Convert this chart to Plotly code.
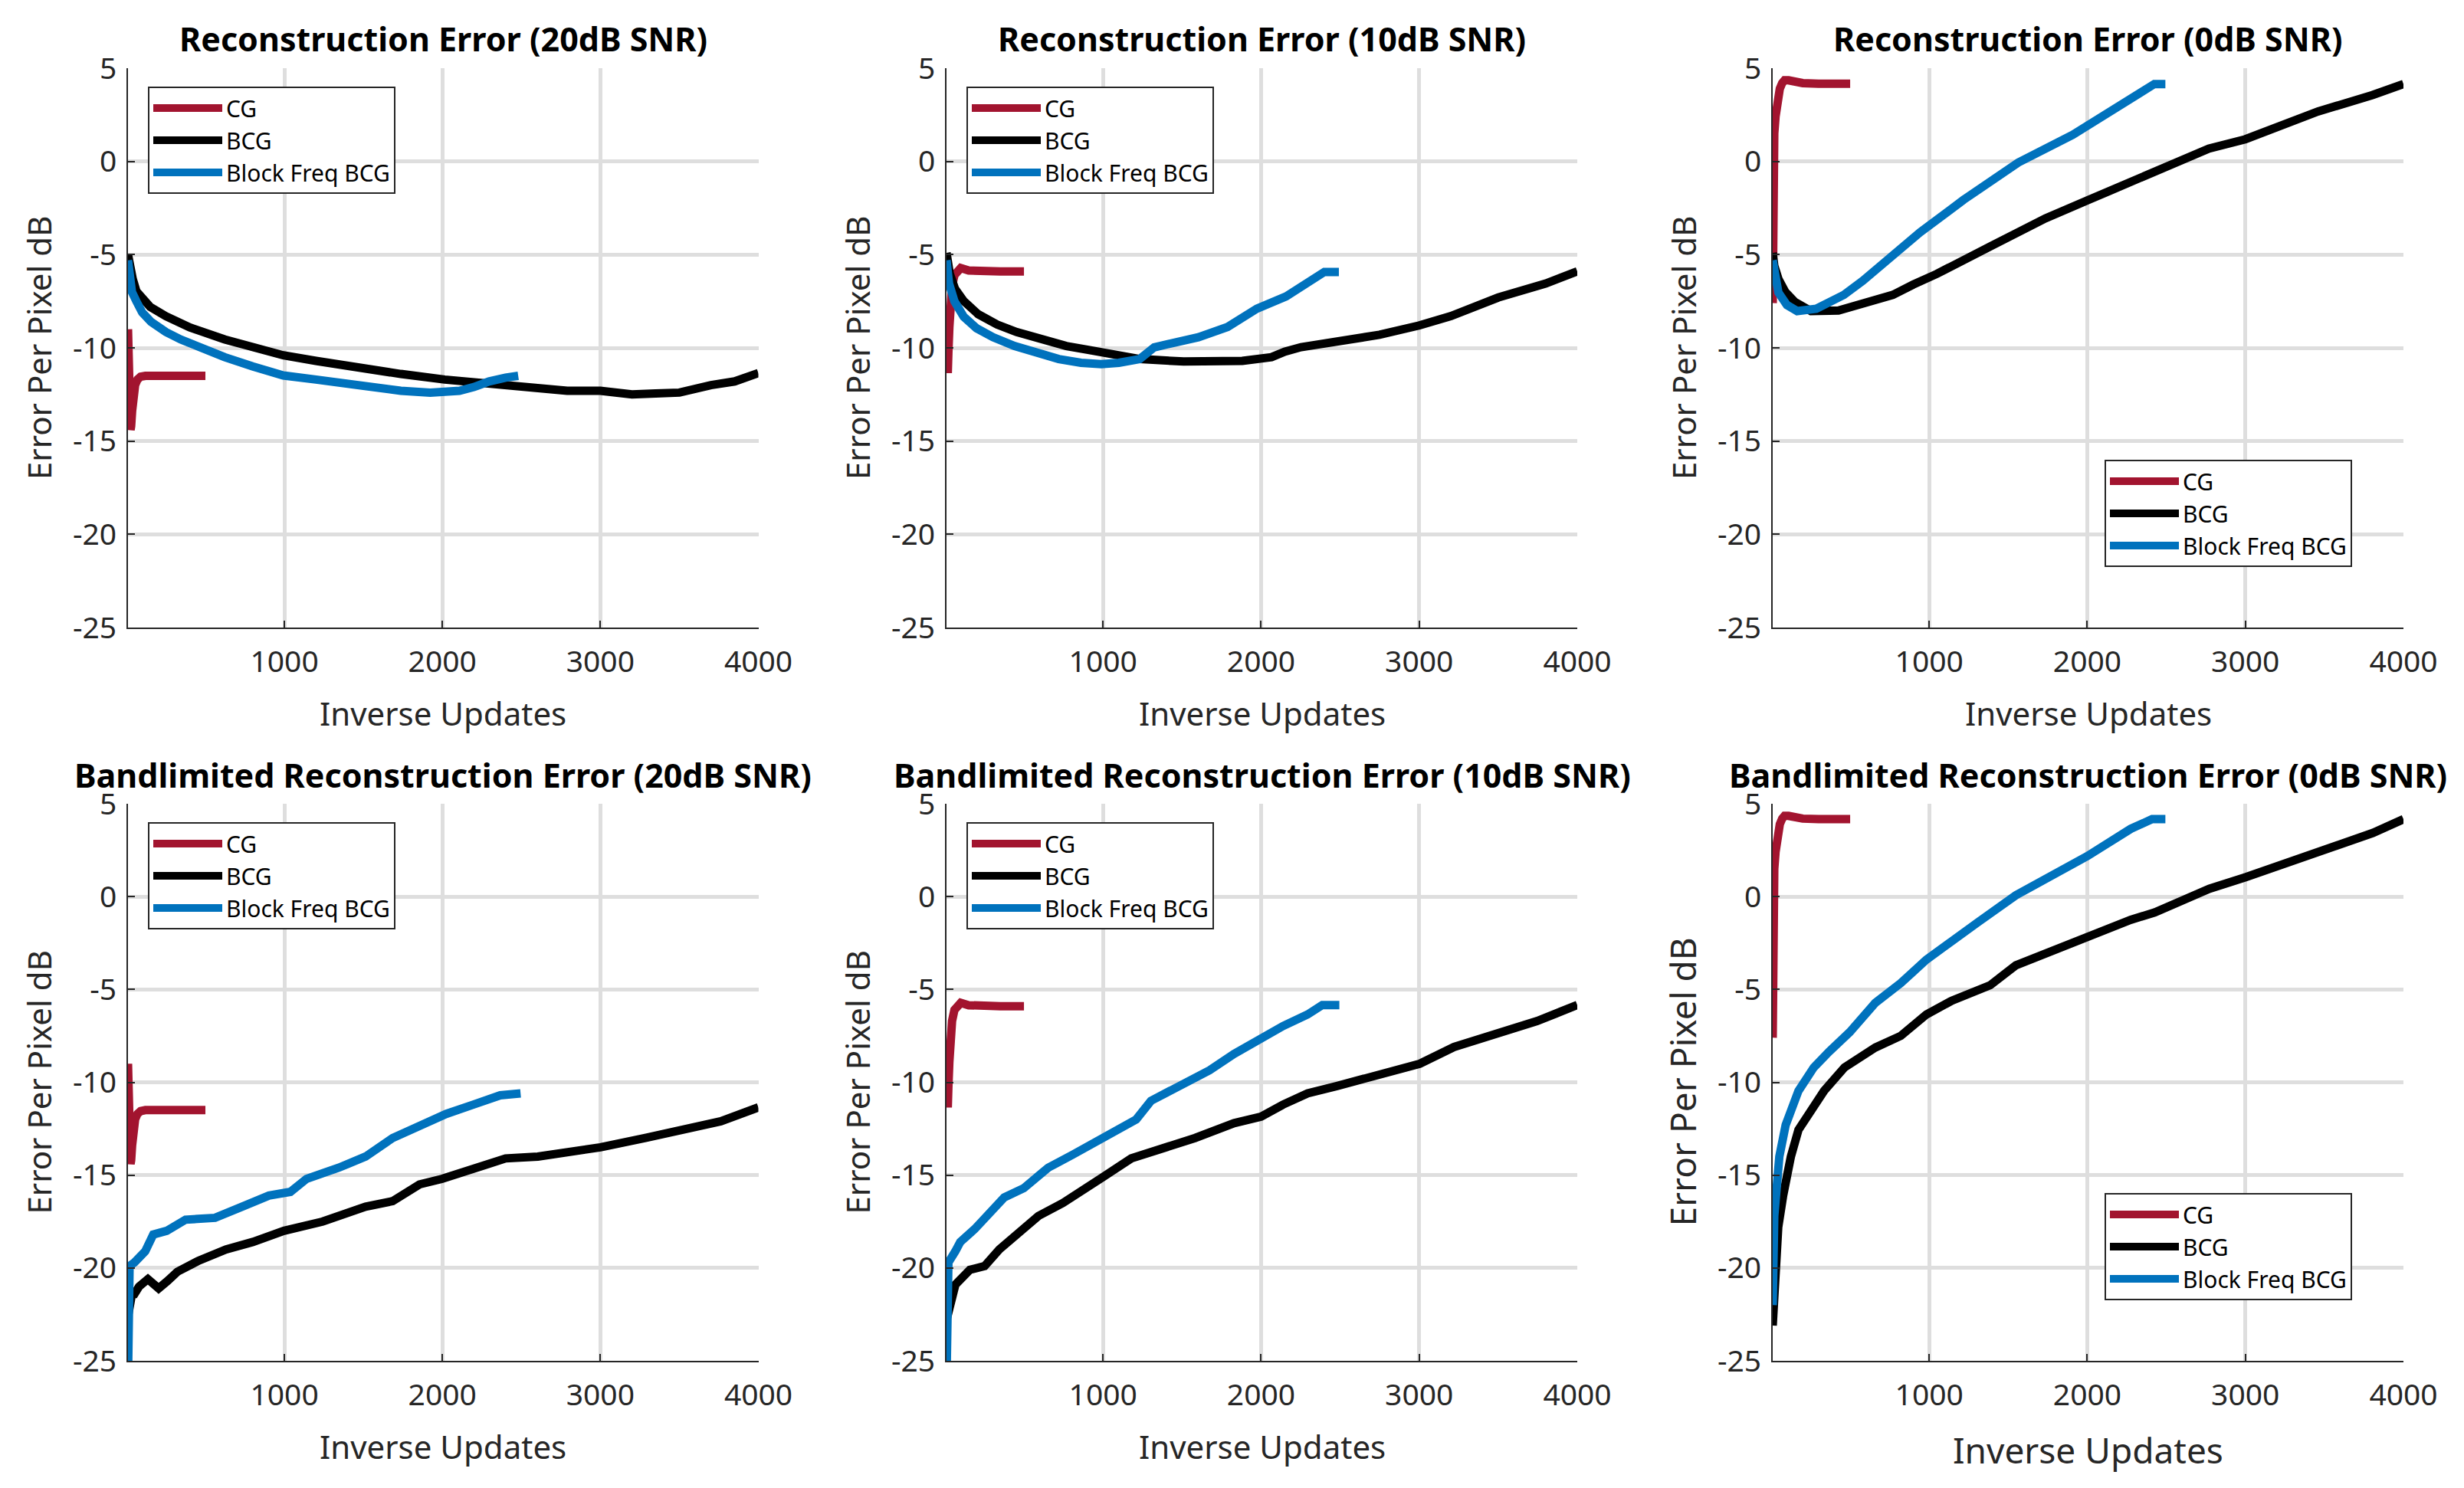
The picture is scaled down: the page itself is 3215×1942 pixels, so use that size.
import plotly.graph_objects as go

# ---------------- data ----------------
# CG curves (shared shapes per SNR level)
cg20_x = [10, 14, 18, 22, 26, 30, 36, 44, 55, 70, 90, 120, 200, 300, 400, 500]
cg20_y = [-9.0, -10.5, -12.3, -13.8, -14.4, -14.2, -13.4, -12.5, -12.0, -11.7, -11.55, -11.5, -11.5, -11.5, -11.5, -11.5]

cg10_x = [10, 14, 18, 22, 28, 35, 45, 60, 80, 100, 150, 250, 350, 500]
cg10_y = [-9.0, -10.4, -11.35, -10.2, -8.9, -7.6, -6.7, -6.1, -5.8, -5.72, -5.85, -5.9, -5.9, -5.9]

cg0_x = [10, 11, 13, 16, 20, 28, 36, 45, 55, 70, 85, 110, 150, 200, 300, 400, 500]
cg0_y = [-7.6, -4.5, -2.0, 0.0, 1.5, 2.4, 3.0, 3.5, 3.9, 4.2, 4.35, 4.35, 4.25, 4.2, 4.17, 4.17, 4.17]

# Reconstruction error, 20 dB
bcg20_x = [10, 20, 40, 63, 100, 150, 250, 400, 622, 800, 993, 1200, 1365, 1550, 1737, 2015, 2200, 2295, 2480, 2790, 3000, 3200, 3350, 3500, 3700, 3850, 4000]
bcg20_y = [-5.0, -5.6, -6.3, -6.96, -7.4, -7.8, -8.3, -8.9, -9.55, -10.0, -10.4, -10.7, -10.95, -11.2, -11.4, -11.7, -11.85, -11.85, -12.0, -12.3, -12.3, -12.5, -12.45, -12.4, -12.0, -11.8, -11.35]
bf20_x = [10, 18, 35, 63, 100, 156, 250, 344, 480, 622, 800, 993, 1200, 1365, 1550, 1737, 1923, 2108, 2200, 2295, 2400, 2480]
bf20_y = [-5.3, -6.4, -7.0, -7.5, -8.1, -8.6, -9.15, -9.55, -10.05, -10.5, -11.0, -11.48, -11.7, -11.9, -12.1, -12.3, -12.4, -12.3, -12.1, -11.8, -11.6, -11.5]

# Reconstruction error, 10 dB
bcg10_x = [10, 30, 63, 120, 211, 330, 453, 600, 768, 900, 1047, 1232, 1510, 1696, 1881, 2066, 2150, 2253, 2438, 2749, 3000, 3200, 3500, 3800, 4000]
bcg10_y = [-4.9, -6.0, -6.82, -7.5, -8.2, -8.75, -9.15, -9.55, -9.9, -10.1, -10.3, -10.6, -10.73, -10.77, -10.7, -10.5, -10.2, -9.96, -9.7, -9.3, -8.8, -8.3, -7.3, -6.55, -5.9]
bf10_x = [10, 26, 60, 119, 200, 304, 440, 582, 720, 861, 989, 1100, 1232, 1324, 1450, 1603, 1788, 1973, 2158, 2308, 2400, 2492]
bf10_y = [-5.3, -6.55, -7.5, -8.33, -8.95, -9.43, -9.9, -10.3, -10.6, -10.8, -10.87, -10.8, -10.6, -9.97, -9.7, -9.43, -8.88, -7.9, -7.24, -6.4, -5.93, -5.93]

# Reconstruction error, 0 dB
bcg0_x = [10, 20, 46, 90, 150, 252, 426, 600, 770, 900, 1046, 1391, 1736, 2012, 2424, 2769, 3000, 3460, 3805, 4000]
bcg0_y = [-4.9, -5.6, -6.3, -7.0, -7.54, -8.03, -8.0, -7.6, -7.16, -6.6, -6.04, -4.54, -3.05, -2.05, -0.55, 0.69, 1.19, 2.68, 3.56, 4.15]
bf0_x = [10, 25, 46, 100, 165, 286, 460, 580, 701, 943, 1219, 1563, 1908, 2253, 2424, 2494]
bf0_y = [-5.3, -6.3, -7.03, -7.7, -8.03, -7.9, -7.16, -6.4, -5.54, -3.8, -2.05, -0.06, 1.43, 3.2, 4.15, 4.15]

# Bandlimited reconstruction error, 20 dB
bbcg20_x = [10, 20, 35, 51, 80, 136, 204, 260, 323, 459, 630, 800, 997, 1242, 1514, 1685, 1855, 1998, 2196, 2400, 2604, 3000, 3285, 3500, 3762, 4000]
bbcg20_y = [-22.6, -22.0, -21.4, -21.4, -21.0, -20.6, -21.1, -20.7, -20.2, -19.6, -19.0, -18.6, -18.0, -17.5, -16.7, -16.4, -15.5, -15.2, -14.7, -14.1, -14.0, -13.5, -13.0, -12.6, -12.1, -11.35]
bbf20_x = [10, 15, 20, 51, 119, 170, 255, 374, 561, 732, 902, 1038, 1140, 1344, 1514, 1685, 1889, 2025, 2196, 2366, 2495]
bbf20_y = [-26.0, -21.0, -19.9, -19.7, -19.1, -18.2, -18.0, -17.4, -17.3, -16.7, -16.1, -15.9, -15.2, -14.6, -14.0, -13.0, -12.2, -11.7, -11.2, -10.7, -10.6]

# Bandlimited reconstruction error, 10 dB
bbcg10_x = [10, 20, 35, 66, 158, 251, 344, 468, 591, 746, 901, 1000, 1179, 1365, 1582, 1829, 2000, 2139, 2294, 2480, 2757, 3004, 3220, 3499, 3746, 4000]
bbcg10_y = [-22.8, -22.5, -22.0, -20.9, -20.1, -19.9, -19.0, -18.1, -17.2, -16.5, -15.7, -15.1, -14.1, -13.6, -13.0, -12.2, -11.85, -11.2, -10.6, -10.2, -9.6, -9.0, -8.1, -7.35, -6.7, -5.84]
bbf10_x = [10, 15, 22, 66, 97, 189, 282, 375, 499, 653, 808, 1000, 1210, 1303, 1519, 1674, 1829, 2000, 2139, 2294, 2387, 2495]
bbf10_y = [-26.0, -21.0, -19.7, -19.1, -18.6, -17.9, -17.1, -16.2, -15.7, -14.6, -13.9, -13.0, -12.0, -11.0, -10.1, -9.35, -8.47, -7.6, -6.97, -6.35, -5.84, -5.84]

# Bandlimited reconstruction error, 0 dB
bbcg0_x = [10, 28, 45, 76, 125, 173, 254, 335, 464, 659, 820, 982, 1144, 1386, 1548, 1790, 2000, 2275, 2427, 2772, 3003, 3462, 3807, 4000]
bbcg0_y = [-23.1, -20.3, -17.8, -16.1, -14.0, -12.56, -11.5, -10.46, -9.2, -8.13, -7.5, -6.35, -5.6, -4.77, -3.7, -2.87, -2.24, -1.25, -0.85, 0.42, 1.05, 2.43, 3.43, 4.17]
bbf0_x = [10, 20, 52, 92, 173, 270, 367, 497, 659, 820, 982, 1144, 1305, 1548, 1790, 2000, 2275, 2410, 2494]
bbf0_y = [-22.0, -17.2, -14.0, -12.3, -10.46, -9.2, -8.35, -7.3, -5.72, -4.66, -3.4, -2.45, -1.4, 0.07, 1.23, 2.18, 3.65, 4.17, 4.17]

titles = ["Reconstruction Error (20dB SNR)", "Reconstruction Error (10dB SNR)", "Reconstruction Error (0dB SNR)",
          "Bandlimited Reconstruction Error (20dB SNR)", "Bandlimited Reconstruction Error (10dB SNR)",
          "Bandlimited Reconstruction Error (0dB SNR)"]
series_names = ["CG", "BCG", "Block Freq BCG"]
x_ticks = [1000, 2000, 3000, 4000]
x_tick_labels = ["1000", "2000", "3000", "4000"]
y_ticks = [-25, -20, -15, -10, -5, 0, 5]
y_tick_labels = ["-25", "-20", "-15", "-10", "-5", "0", "5"]
x_label = "Inverse Updates"
y_label = "Error Per Pixel dB"

panel_data = [
    [(cg20_x, cg20_y), (bcg20_x, bcg20_y), (bf20_x, bf20_y)],
    [(cg10_x, cg10_y), (bcg10_x, bcg10_y), (bf10_x, bf10_y)],
    [(cg0_x, cg0_y), (bcg0_x, bcg0_y), (bf0_x, bf0_y)],
    [(cg20_x, cg20_y), (bbcg20_x, bbcg20_y), (bbf20_x, bbf20_y)],
    [(cg10_x, cg10_y), (bbcg10_x, bbcg10_y), (bbf10_x, bbf10_y)],
    [(cg0_x, cg0_y), (bbcg0_x, bbcg0_y), (bbf0_x, bbf0_y)],
]

# ---------------- layout / style ----------------
W, H = 3215, 1942
colors = ["#A2142F", "#000000", "#0072BD"]
col_px = [(167, 989.5), (1235, 2058), (2313, 3136)]
row_px = [(89, 819), (1049, 1776)]
FONT = "Noto Sans"
AX = "#262626"

fig = go.Figure()
annotations = []
layout_axes = {}
legends = {}

for i in range(6):
    r, c = divmod(i, 3)
    x0, x1 = col_px[c]
    y0, y1 = row_px[r]
    xd = [x0 / W, x1 / W]
    yd = [1 - y1 / H, 1 - y0 / H]
    xa = "xaxis" if i == 0 else f"xaxis{i+1}"
    ya = "yaxis" if i == 0 else f"yaxis{i+1}"
    xref = "x" if i == 0 else f"x{i+1}"
    yref = "y" if i == 0 else f"y{i+1}"
    lg = "legend" if i == 0 else f"legend{i+1}"

    for k, (xs, ys) in enumerate(panel_data[i]):
        fig.add_trace(go.Scatter(x=xs, y=ys, mode="lines", name=series_names[k],
                                 line=dict(color=colors[k], width=11),
                                 xaxis=xref, yaxis=yref, legend=lg, showlegend=True))

    common = dict(showline=True, linecolor=AX, linewidth=2, ticks="inside", ticklen=9,
                  tickwidth=2, tickcolor=AX, showgrid=True, gridcolor="#dedede", gridwidth=5,
                  zeroline=False, automargin=False,
                  tickfont=dict(family=FONT, size=39, color=AX), mirror=False)
    layout_axes[xa] = dict(common, domain=xd, range=[10, 4000], tickvals=x_ticks,
                           ticktext=x_tick_labels, anchor=yref, ticklabelstandoff=9)
    layout_axes[ya] = dict(common, domain=yd, range=[-25, 5], tickvals=y_ticks,
                           ticktext=y_tick_labels, anchor=xref, ticklabelstandoff=5)

    # legend placement
    if c < 2:
        legends[lg] = dict(x=(x0 + 26) / W, y=1 - (y0 + 24) / H, xanchor="left", yanchor="top")
    else:
        legends[lg] = dict(x=(x0 + 433) / W, y=1 - (y1 - 79) / H, xanchor="left", yanchor="bottom")
    legends[lg].update(bgcolor="white", bordercolor=AX, borderwidth=2,
                       font=dict(family=FONT, size=30, color="#000000"), itemwidth=90,
                       tracegroupgap=0)

    cx = (x0 + x1) / 2 / W
    # title
    annotations.append(dict(text=titles[i], x=cx, y=1 - (y0 - 38) / H, xref="paper", yref="paper",
                            xanchor="center", yanchor="middle", showarrow=False,
                            font=dict(family=FONT, size=43, color="#000000", weight="bold")))
    big = (i == 5)
    annotations.append(dict(text=x_label, x=cx, y=1 - (y1 + (116 if big else 111)) / H, xref="paper",
                            yref="paper", xanchor="center", yanchor="middle", showarrow=False,
                            font=dict(family=FONT, size=46 if big else 42, color=AX)))
    annotations.append(dict(text=y_label, x=(x0 - (119 if big else 117)) / W, y=1 - (y0 + y1) / 2 / H,
                            xref="paper", yref="paper", xanchor="center", yanchor="middle",
                            textangle=-90, showarrow=False,
                            font=dict(family=FONT, size=46 if big else 42, color=AX)))

fig.update_layout(template="none", width=W, height=H, margin=dict(l=0, r=0, t=0, b=0, autoexpand=False),
                  paper_bgcolor="white", plot_bgcolor="white",
                  font=dict(family=FONT, color=AX),
                  annotations=annotations, **layout_axes, **legends)

fig.write_html("out.html", config={"displayModeBar": False},
               post_script="document.body.style.margin='0px';document.body.style.overflow='hidden';")
